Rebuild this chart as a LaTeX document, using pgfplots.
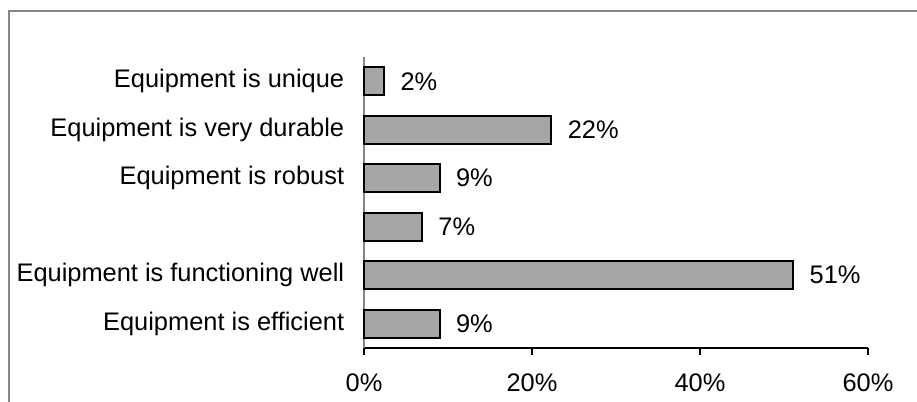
\documentclass[border=0pt]{standalone}
\usepackage{pgfplots}
\pgfplotsset{compat=1.18}
\usepackage{fontspec}
\setmainfont{Liberation Sans}
\definecolor{barfill}{RGB}{166,166,166}
\definecolor{framegray}{RGB}{134,134,134}
\begin{document}
\fontsize{12.7bp}{15bp}\selectfont
\begin{tikzpicture}
\useasboundingbox (-182bp,-27bp) rectangle (276.5bp,174bp);
\draw[framegray, line width=1bp] (-177.5bp,-40bp) -- (-177.5bp,168.5bp) -- (290bp,168.5bp);
\begin{axis}[
  at={(0,0)}, anchor=south west,
  scale only axis,
  width=252bp, height=145.5bp,
  xbar, bar width=14bp,
  xmin=0, xmax=60,
  ymin=0.5, ymax=6.5,
  axis x line*=bottom,
  axis y line*=left,
  x axis line style={black, line width=1.4bp, -},
  y axis line style={framegray, line width=0.8bp, -},
  xtick={0,20,40,60},
  xticklabels={0\%,20\%,40\%,60\%},
  xtick style={black, line width=1bp},
  xtick pos=bottom,
  tick align=outside,
  major tick length=3.5bp,
  xticklabel style={yshift=-5bp},
  ytick={1,2,3,4,5,6},
  yticklabels={Equipment is efficient, Equipment is functioning well, {}, Equipment is robust\ , Equipment is very durable, Equipment is unique},
  ytick style={draw=none},
  yticklabel style={xshift=-2bp},
  /pgf/number format/assume math mode=true,
  point meta=x,
  nodes near coords={\pgfmathprintnumber[fixed,precision=0]{\pgfplotspointmeta}\%},
  nodes near coords style={anchor=west, xshift=3.5bp},
  every node near coord/.append style={font=\fontsize{12.7bp}{15bp}\selectfont},
  tick label style={font=\fontsize{12.7bp}{15bp}\selectfont},
  clip=false,
]
\addplot[fill=barfill, draw=black, line width=1bp] coordinates {
  (9.0,1) (51.1,2) (6.9,3) (9.0,4) (22.3,5) (2.4,6)
};
\end{axis}
\end{tikzpicture}
\end{document}
